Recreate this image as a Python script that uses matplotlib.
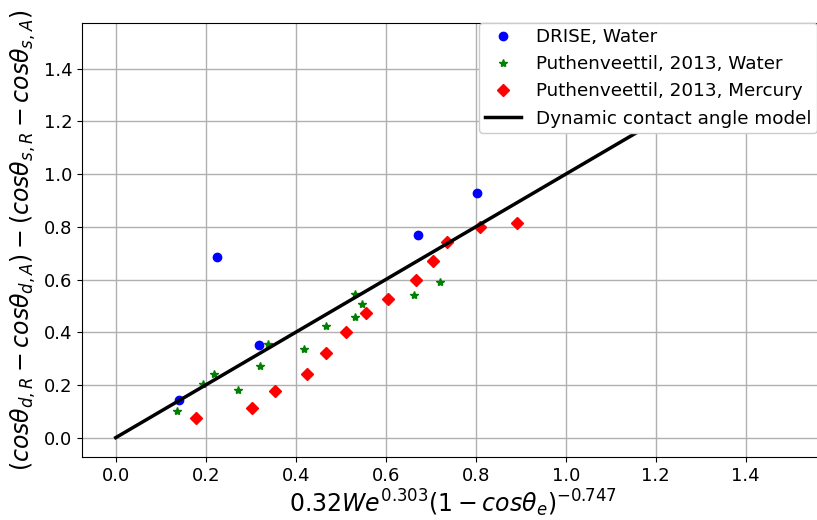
import matplotlib.pyplot as plt
import numpy as np

# DRISE, water
drise_x = [0.141, 0.224, 0.318, 0.672, 0.802]
drise_y = [0.143, 0.684, 0.353, 0.768, 0.927]

# Puthenveettil 2013, water
water_x = [0.136, 0.193, 0.218, 0.271, 0.321, 0.339, 0.418, 0.467, 0.532, 0.547, 0.532, 0.662, 0.721]
water_y = [0.100, 0.203, 0.241, 0.181, 0.272, 0.354, 0.336, 0.425, 0.545, 0.507, 0.458, 0.541, 0.592]

# Puthenveettil 2013, mercury
hg_x = [0.178, 0.302, 0.354, 0.425, 0.467, 0.512, 0.556, 0.605, 0.667, 0.704, 0.737, 0.810, 0.892]
hg_y = [0.073, 0.112, 0.177, 0.241, 0.320, 0.400, 0.472, 0.525, 0.598, 0.670, 0.743, 0.800, 0.814]

# model line y = x
model_x = [0.0, 1.5]
model_y = [0.0, 1.5]

fig = plt.figure(figsize=(8.17, 5.2), dpi=100)
# axes runs slightly past the right edge, like the cropped original
ax = fig.add_axes([82 / 817, (520 - 457.4) / 520, (824.5 - 82) / 817, (457.4 - 22.6) / 520])

ax.plot(drise_x, drise_y, 'bo', label='DRISE, Water')
ax.plot(water_x, water_y, 'g*', label='Puthenveettil, 2013, Water')
ax.plot(hg_x, hg_y, 'rD', label='Puthenveettil, 2013, Mercury')
ax.plot(model_x, model_y, 'k-', linewidth=2.5, label='Dynamic contact angle model')

ax.set_xticks(np.arange(0, 1.41, 0.2))
ax.set_yticks(np.arange(0, 1.41, 0.2))
ax.tick_params(labelsize=13)
ax.grid(True, color='#b0b0b0', linewidth=1)

ax.set_xlabel(r'$0.32We^{0.303}(1-cos\theta_e)^{-0.747}$', fontsize=17, labelpad=2)
ax.set_ylabel(r'$(cos\theta_{d,R}-cos\theta_{d,A})-(cos\theta_{s,R}-cos\theta_{s,A})$', fontsize=17)
# legend sits flush with the top and runs off the right edge
ax.legend(loc='upper left', bbox_to_anchor=(0.5347, 1.0), borderaxespad=0,
          fontsize=13.2, framealpha=1, borderpad=0.3, labelspacing=0.5)

fig.savefig('out.png', dpi=100)
